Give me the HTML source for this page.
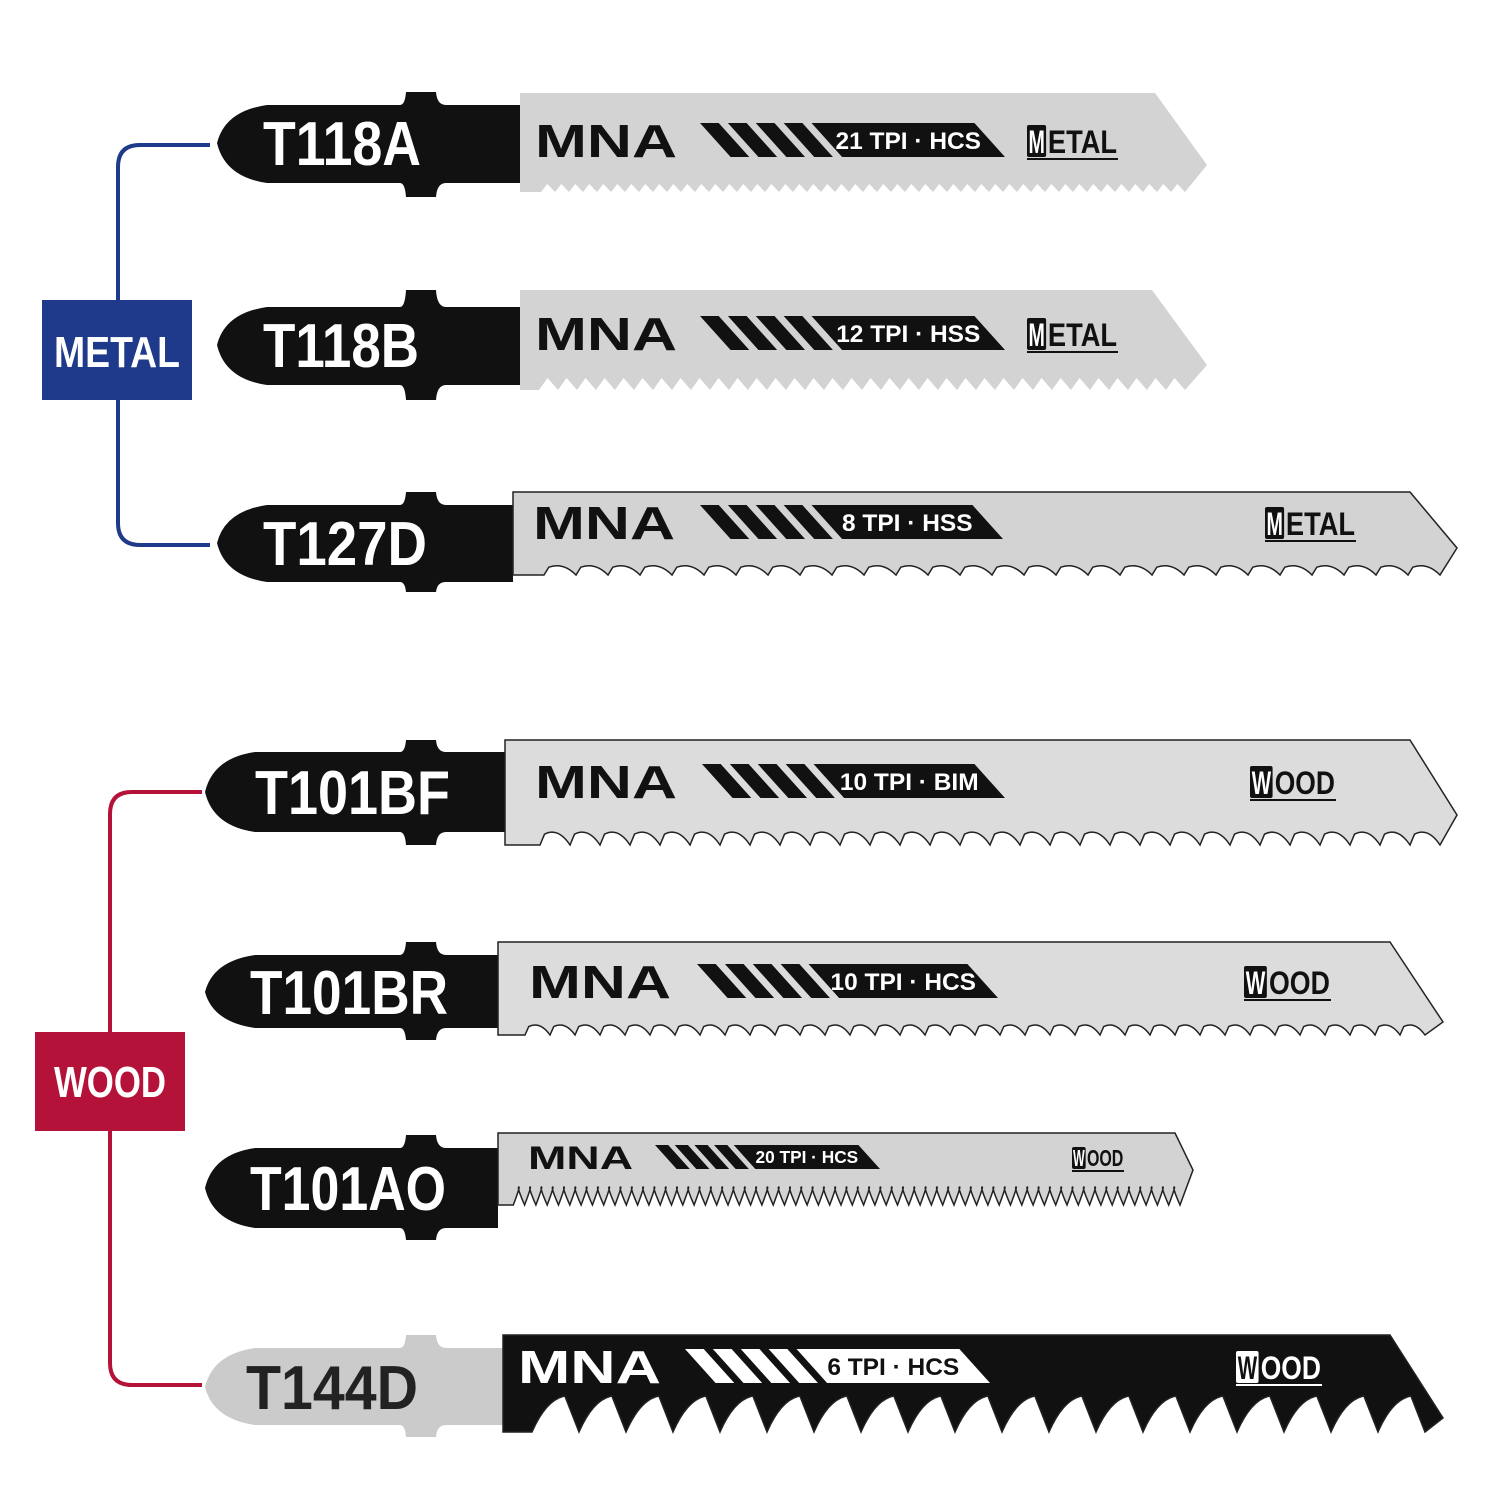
<!DOCTYPE html>
<html><head><meta charset="utf-8"><style>
html,body{margin:0;padding:0;background:#fff}
svg{display:block}
text{font-family:"Liberation Sans Narrow","Liberation Sans",sans-serif;font-weight:bold}
</style></head><body>
<svg id="s" width="1500" height="1500" viewBox="0 0 1500 1500" xmlns="http://www.w3.org/2000/svg">
<rect width="1500" height="1500" fill="#fff"/>
<path d="M210,145 H140 Q118,145 118,167 V523 Q118,545 140,545 H210" fill="none" stroke="#1f3a8a" stroke-width="4"/>
<rect x="42" y="300" width="150" height="100" fill="#1f3a8a"/>
<text x="117" y="367" fill="#fff" font-size="44" text-anchor="middle" textLength="126" lengthAdjust="spacingAndGlyphs">METAL</text>
<path d="M202,792 H132 Q110,792 110,814 V1363 Q110,1385 132,1385 H202" fill="none" stroke="#b5123a" stroke-width="4"/>
<rect x="35" y="1032" width="150" height="99" fill="#b5123a"/>
<text x="110" y="1097" fill="#fff" font-size="44" text-anchor="middle" textLength="112" lengthAdjust="spacingAndGlyphs">WOOD</text>
<g id="g"></g>
</svg>
<script>
var B=[
{cy:143,ht:105,hb:183,tt:92,tb:197,sx:217,se:520,bt:93,bb:192,ex:1155,tx:1207,ty:165,bx:1185,sf:"#111",bf:"#d3d3d3",fg:"#111",bg:"#fff",lab:"T118A",lx:263,lw:158,tpi:"21 TPI · HCS",ty0:140,th:34,lg:535,lgw:142,st:700,se2:1005,type:"METAL",tX:1027,tW:91,per:14,dep:8,style:"fine"},
{cy:345,ht:307,hb:385,tt:290,tb:400,sx:217,se:520,bt:290,bb:390,ex:1152,tx:1207,ty:365,bx:1185,sf:"#111",bf:"#d3d3d3",fg:"#111",bg:"#fff",lab:"T118B",lx:263,lw:156,tpi:"12 TPI · HSS",ty0:333,th:34,lg:535,lgw:142,st:700,se2:1005,type:"METAL",tX:1027,tW:91,per:19,dep:12,style:"fine"},
{cy:543,ht:505,hb:582,tt:492,tb:592,sx:217,se:513,bt:492,bb:575,ex:1410,tx:1457,ty:548,bx:1440,sf:"#111",bf:"#d3d3d3",fg:"#111",bg:"#fff",lab:"T127D",lx:263,lw:164,tpi:"8 TPI · HSS",ty0:522,th:34,lg:533,lgw:142,st:700,se2:1003,type:"METAL",tX:1265,tW:91,per:32,dep:13,style:"curve"},
{cy:792,ht:752,hb:832,tt:740,tb:845,sx:205,se:505,bt:740,bb:845,ex:1410,tx:1457,ty:815,bx:1440,sf:"#111",bf:"#dcdcdc",fg:"#111",bg:"#fff",lab:"T101BF",lx:255,lw:195,tpi:"10 TPI · BIM",ty0:781,th:34,lg:535,lgw:142,st:702,se2:1005,type:"WOOD",tX:1250,tW:86,per:30,dep:18,style:"curve"},
{cy:992,ht:955,hb:1028,tt:942,tb:1040,sx:205,se:498,bt:942,bb:1035,ex:1390,tx:1443,ty:1022,bx:1425,sf:"#111",bf:"#dcdcdc",fg:"#111",bg:"#fff",lab:"T101BR",lx:250,lw:198,tpi:"10 TPI · HCS",ty0:981,th:34,lg:529,lgw:142,st:697,se2:998,type:"WOOD",tX:1244,tW:87,per:25,dep:14,style:"curve"},
{cy:1188,ht:1148,hb:1228,tt:1135,tb:1240,sx:205,se:498,bt:1133,bb:1205,ex:1175,tx:1193,ty:1170,bx:1180,sf:"#111",bf:"#d3d3d3",fg:"#111",bg:"#fff",lab:"T101AO",lx:250,lw:196,tpi:"20 TPI · HCS",ty0:1157,th:24,lg:528,lgw:105,st:655,se2:880,type:"WOOD",tX:1072,tW:52,per:11.3,dep:18,style:"sharp"},
{cy:1387,ht:1348,hb:1425,tt:1335,tb:1437,sx:205,se:503,bt:1335,bb:1432,ex:1390,tx:1443,ty:1418,bx:1425,sf:"#cbcbcb",bf:"#111",fg:"#fff",bg:"#111",lab:"T144D",lx:246,lw:172,tpi:"6 TPI · HCS",ty0:1366,th:34,lg:518,lgw:143,st:685,se2:990,type:"WOOD",tX:1236,tW:86,per:47,dep:36,style:"big"}
];
var h="";
B.forEach(function(b){
 var cy=b.cy;
 var s="M"+b.sx+","+cy+" Q"+(b.sx+8)+","+(b.ht+6)+" "+(b.sx+50)+","+b.ht+" L"+400+","+b.ht+" Q405,"+b.ht+" 406,"+b.tt+" L436,"+b.tt+" Q437,"+b.ht+" 446,"+b.ht+" L"+b.se+","+b.ht+" L"+b.se+","+b.hb+" L446,"+b.hb+" Q437,"+b.hb+" 436,"+b.tb+" L406,"+b.tb+" Q405,"+b.hb+" 400,"+b.hb+" L"+(b.sx+50)+","+b.hb+" Q"+(b.sx+8)+","+(b.hb-6)+" "+b.sx+","+cy+" Z";
 h+='<path d="'+s+'" fill="'+b.sf+'"/>';
 var p="M"+b.se+","+b.bt+" L"+b.ex+","+b.bt+" L"+b.tx+","+b.ty+" L"+b.bx+","+b.bb;
 var base=b.bb;
 var n=Math.floor((b.bx-b.se-10)/b.per);
 for(var i=0;i<n;i++){
  var x1=b.bx-(i+1)*b.per;
  if(b.style=="fine"){p+=" L"+(x1+b.per*0.45)+","+(base-b.dep)+" L"+x1+","+base;}
  else if(b.style=="sharp"){p+=" Q"+(x1+b.per*0.3)+","+(base-b.dep)+" "+(x1+b.per*0.5)+","+(base-b.dep)+" Q"+(x1+b.per*0.6)+","+(base-b.dep)+" "+x1+","+base;}
  else if(b.style=="big"){p+=" L"+(x1+b.per*0.7)+","+(base-b.dep)+" Q"+(x1+b.per*0.3)+","+(base-b.dep*0.9)+" "+x1+","+base;}
  else {p+=" Q"+(x1+b.per*0.6)+","+(base-b.dep)+" "+(x1+b.per*0.15)+","+(base-b.dep*0.6)+" L"+x1+","+base;}
 }
 p+=" L"+b.se+","+base+" Z";
 h+='<path d="'+p+'" fill="'+b.bf+'" stroke="#222" stroke-width="'+(b.style=="fine"?0:1.5)+'"/>';
 var lc=b.sf=="#111"?"#fff":"#222";
 h+='<text x="'+b.lx+'" y="'+(cy+22)+'" font-size="62" fill="'+lc+'" textLength="'+b.lw+'" lengthAdjust="spacingAndGlyphs">'+b.lab+'</text>';
 var th=b.th, t0=b.ty0-th/2;
 h+='<text x="'+b.lg+'" y="'+(t0+th)+'" font-size="'+(th*1.35)+'" fill="'+b.fg+'" textLength="'+b.lgw+'" lengthAdjust="spacingAndGlyphs">MNA</text>';
 var sl=th*0.9, w=th*0.55, gap=th*0.82;
 for(var k=0;k<4;k++){var a=b.st+k*gap;h+='<polygon points="'+a+','+t0+' '+(a+w)+','+t0+' '+(a+w+sl)+','+(t0+th)+' '+(a+sl)+','+(t0+th)+'" fill="'+b.fg+'"/>';}
 var a2=b.st+4*gap;
 h+='<polygon points="'+a2+','+t0+' '+(b.se2-sl)+','+t0+' '+b.se2+','+(t0+th)+' '+(a2+sl)+','+(t0+th)+'" fill="'+b.fg+'"/>';
 var mid=(a2+sl*0.5+b.se2-sl*0.5)/2;
 h+='<text x="'+mid+'" y="'+(t0+th*0.76)+'" font-size="'+(th*0.72)+'" fill="'+b.bg+'" text-anchor="middle">'+b.tpi+'</text>';
 var fs=th*0.95, ch=b.tW/(b.type.length);
 h+='<rect x="'+b.tX+'" y="'+(t0+2)+'" width="'+(ch*1.05)+'" height="'+(th-2)+'" fill="'+b.fg+'" rx="2"/>';
 h+='<text x="'+(b.tX+ch*0.08)+'" y="'+(t0+th*0.88)+'" font-size="'+fs+'" fill="'+b.bg+'" textLength="'+(ch*0.9)+'" lengthAdjust="spacingAndGlyphs">'+b.type[0]+'</text>';
 h+='<text x="'+(b.tX+ch*1.15)+'" y="'+(t0+th*0.88)+'" font-size="'+fs+'" fill="'+b.fg+'" textLength="'+(b.tW-ch*1.2)+'" lengthAdjust="spacingAndGlyphs">'+b.type.slice(1)+'</text>';
 h+='<rect x="'+b.tX+'" y="'+(t0+th+1)+'" width="'+b.tW+'" height="2" fill="'+b.fg+'"/>';
});
document.getElementById("g").innerHTML=h;
</script>
</body></html>
